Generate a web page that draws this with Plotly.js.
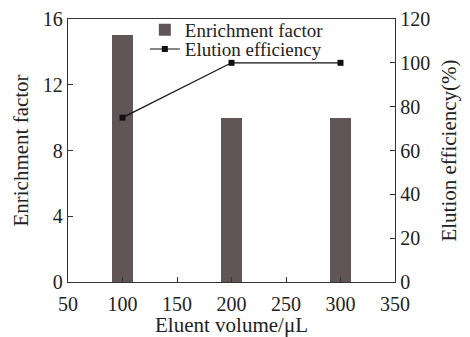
<!DOCTYPE html>
<html><head><meta charset="utf-8">
<script src="https://cdn.plot.ly/plotly-3.0.1.min.js"></script>
<style>body{margin:0;background:#fff}#c{width:470px;height:337px}</style>
</head><body><div id="c"></div>
<script>
const volumes = [100, 200, 300];
const enrichment = [15, 10, 10];
const elution = [75, 100, 100];
const xTicks = [50, 100, 150, 200, 250, 300, 350];
const F = 'Liberation Serif, Times New Roman, serif';
const traces = [
  {type:'bar', x:volumes, y:enrichment, name:'Enrichment factor', width:20,
   marker:{color:'#605658'}, yaxis:'y', legend:'legend'},
  {type:'scatter', mode:'lines+markers', x:volumes, y:elution, name:'Elution efficiency',
   line:{color:'#111', width:1.2}, marker:{symbol:'square', size:6, color:'#111'}, yaxis:'y2', legend:'legend2'}
];
const axBase = {showgrid:false, zeroline:false, showline:true, linecolor:'#333', linewidth:1.2,
  ticks:'inside', ticklen:5, tickcolor:'#333', tickfont:{family:F, size:20, color:'#222'}};
const legBase = {xanchor:'left', yanchor:'middle', bgcolor:'rgba(0,0,0,0)',
  font:{family:F, size:19, color:'#222'}, itemwidth:30};
const layout = {
  width:470, height:337, margin:{l:68, r:75, t:18, b:55},
  paper_bgcolor:'#fff', plot_bgcolor:'#fff', showlegend:true,
  font:{family:F, color:'#222'},
  xaxis:Object.assign({}, axBase, {range:[50,350], tickvals:xTicks, mirror:true, ticklabelstandoff:4,
    title:{text:'Eluent volume/μL', font:{family:F, size:21}, standoff:0}}),
  yaxis:Object.assign({}, axBase, {range:[0,16], tickvals:[0,4,8,12,16],
    title:{text:'Enrichment factor', font:{family:F, size:21}, standoff:8}}),
  yaxis2:Object.assign({}, axBase, {range:[0,120], tickvals:[0,20,40,60,80,100,120], overlaying:'y', side:'right',
    title:{text:'Elution efficiency(%)', font:{family:F, size:21}, standoff:12}}),
  legend:Object.assign({}, legBase, {x:0.235, y:0.955}),
  legend2:Object.assign({}, legBase, {x:0.235, y:0.882}),
  bargap:0
};
Plotly.newPlot('c', traces, layout, {displayModeBar:false, staticPlot:true});
</script></body></html>
